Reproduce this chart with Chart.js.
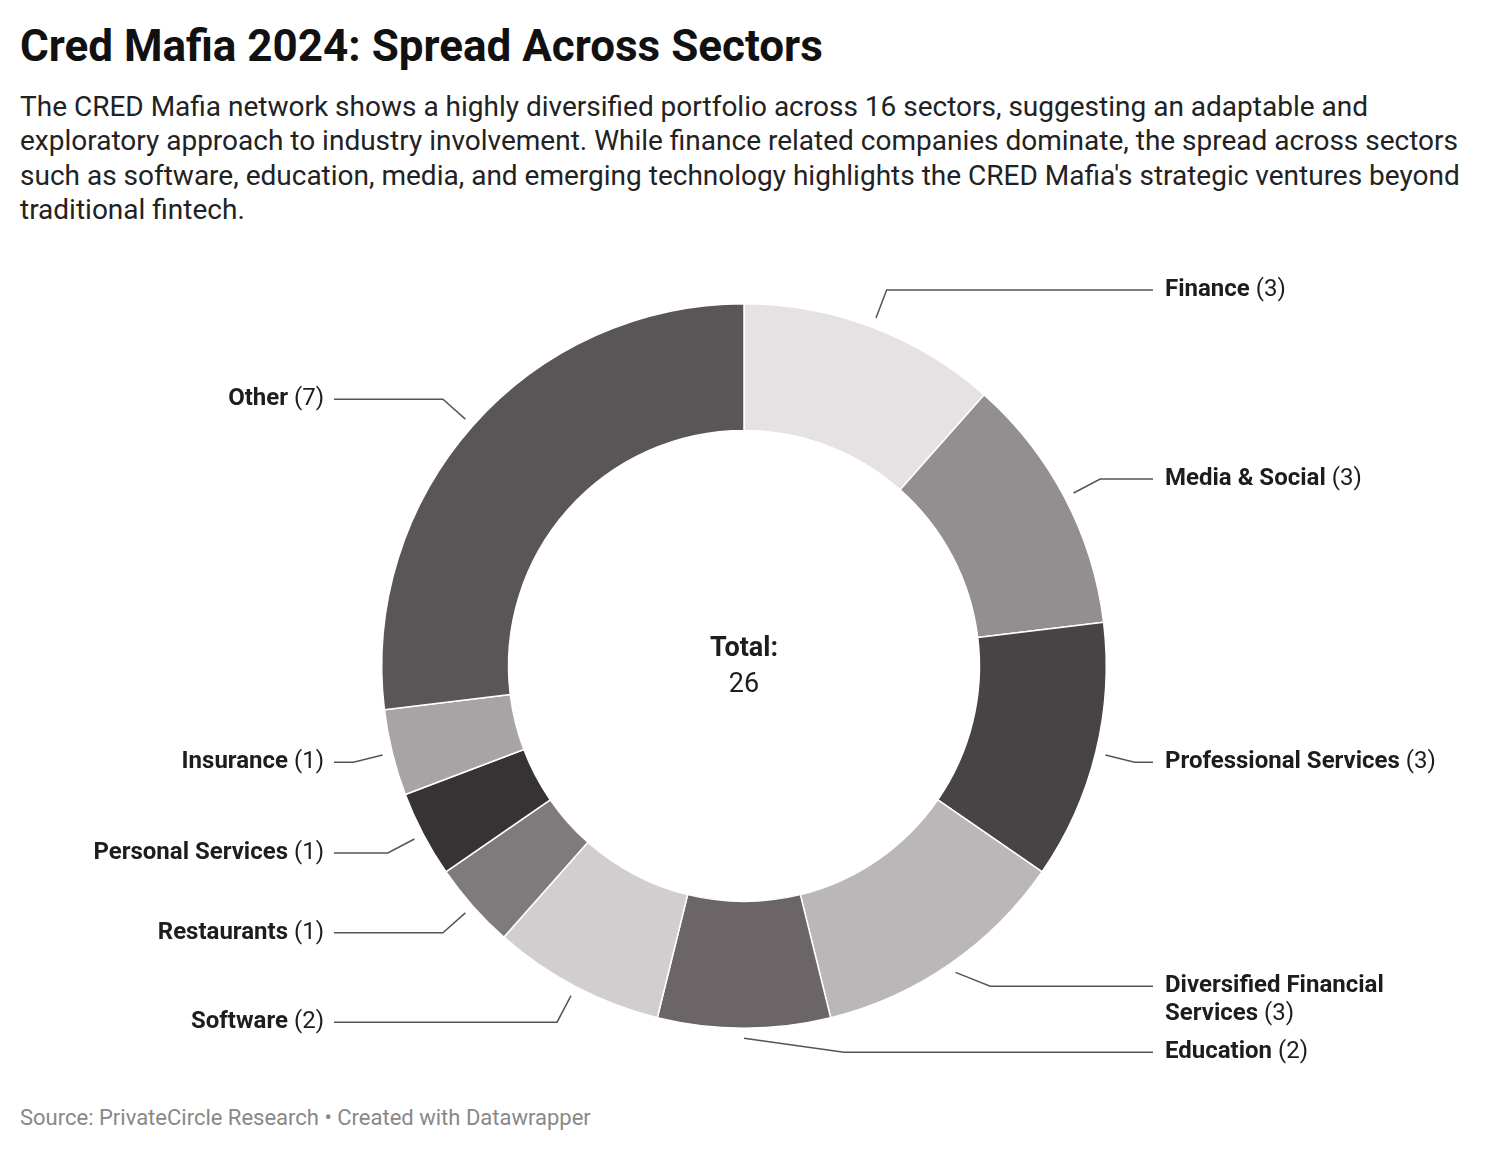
<!DOCTYPE html>
<html>
<head>
<meta charset="utf-8">
<script src="https://cdn.jsdelivr.net/npm/chart.js@4.4.1/dist/chart.umd.min.js"></script>
<style>
  body { margin: 0; background: #fff; font-family: Roboto, sans-serif; color: #1d1d1d; }
  #title { position: absolute; left: 20px; top: 20px; font-size: 44px; font-weight: 700; line-height: 52px; white-space: nowrap; color: #111; }
  #desc { position: absolute; left: 20px; top: 90px; font-size: 28px; line-height: 34.4px; white-space: nowrap; color: #222; }
  #wrap { position: absolute; left: 0; top: 246px; width: 1488px; height: 840px; }
  #source { position: absolute; left: 20px; top: 1104px; font-size: 22px; line-height: 28px; color: #888; white-space: nowrap; }
</style>
</head>
<body>
<div id="title">Cred Mafia 2024: Spread Across Sectors</div>
<div id="desc">The CRED Mafia network shows a highly diversified portfolio across 16 sectors, suggesting an adaptable and<br>exploratory approach to industry involvement. While finance related companies dominate, the spread across sectors<br>such as software, education, media, and emerging technology highlights the CRED Mafia's strategic ventures beyond<br>traditional fintech.</div>
<div id="wrap"><canvas id="sectorChart" width="1488" height="840"></canvas></div>
<div id="source">Source: PrivateCircle Research • Created with Datawrapper</div>

<script>
// sectors, clockwise from the top
const sectors = ['Finance', 'Media & Social', 'Professional Services', 'Diversified Financial Services',
                 'Education', 'Software', 'Restaurants', 'Personal Services', 'Insurance', 'Other'];
const companies = [3, 3, 3, 3, 2, 2, 1, 1, 1, 7];
const sliceColors = ['#e6e1e3', '#938e8f', '#484445', '#bbb6b7', '#6b6567',
                     '#d2cdce', '#7f7a7b', '#373334', '#a8a3a4', '#5a5556'];
const centerLabel = 'Total:';

const LABEL_SIZE = 24;
const LINE_H = 28;

// split "Name (n)" into bold + regular words
function labelWords(i) {
    const words = sectors[i].split(' ').map(w => ({ text: w, bold: true }));
    words.push({ text: '(' + companies[i] + ')', bold: false });
    return words;
}

function fontFor(bold) {
    return (bold ? '700 ' : '400 ') + LABEL_SIZE + 'px Roboto, sans-serif';
}

function wrapWords(ctx, words, maxWidth) {
    const lines = [];
    let line = [], width = 0;
    ctx.font = fontFor(false);
    const space = ctx.measureText(' ').width;
    words.forEach(w => {
        ctx.font = fontFor(w.bold);
        const ww = ctx.measureText(w.text).width;
        const add = line.length ? space + ww : ww;
        if (line.length && width + add > maxWidth) {
            lines.push({ words: line, width: width });
            line = [w]; width = ww;
        } else {
            line.push(w); width += add;
        }
    });
    if (line.length) lines.push({ words: line, width: width });
    return lines;
}

const leaderLabels = {
    id: 'leaderLabels',
    afterDraw(chart) {
        const ctx = chart.ctx;
        const arcs = chart.getDatasetMeta(0).data;
        if (!arcs.length) return;
        const cx = arcs[0].x, cy = arcs[0].y, R = arcs[0].outerRadius;

        // centre text
        const total = companies.reduce((a, b) => a + b, 0);
        ctx.save();
        ctx.fillStyle = '#1d1d1d';
        ctx.textAlign = 'center';
        ctx.textBaseline = 'middle';
        ctx.font = '700 27px Roboto, sans-serif';
        ctx.fillText(centerLabel, cx, cy - 17);
        ctx.font = '400 27px Roboto, sans-serif';
        ctx.fillText(String(total), cx, cy + 19);
        ctx.restore();

        // build labels
        const items = arcs.map((arc, i) => {
            const mid = (arc.startAngle + arc.endAngle) / 2;
            const side = Math.cos(mid) > -1e-3 ? 1 : -1;
            const lines = wrapWords(ctx, labelWords(i), 300);
            return {
                i, mid, side, lines,
                sx: cx + Math.cos(mid) * (R + 10), sy: cy + Math.sin(mid) * (R + 10),
                ex: cx + Math.cos(mid) * (R + 40), ey: cy + Math.sin(mid) * (R + 40),
                y: cy + Math.sin(mid) * (R + 40)
            };
        });

        // keep labels apart on each side
        const maxY = cy + R + 24, minY = cy - R - 24;
        [1, -1].forEach(side => {
            const group = items.filter(it => it.side === side).sort((a, b) => a.y - b.y);
            for (let k = group.length - 1; k >= 0; k--) {
                const it = group[k];
                const limit = k === group.length - 1 ? maxY - (it.lines.length - 1) * LINE_H
                                                     : group[k + 1].y - it.lines.length * LINE_H - 10;
                if (it.y > limit) it.y = limit;
            }
            for (let k = 0; k < group.length; k++) {
                const it = group[k];
                const low = k === 0 ? minY : group[k - 1].y + group[k - 1].lines.length * LINE_H + 10;
                if (it.y < low) it.y = low;
            }
        });

        ctx.save();
        ctx.strokeStyle = '#555';
        ctx.lineWidth = 1.5;
        ctx.textBaseline = 'middle';
        items.forEach(it => {
            let elbowX = it.ex;
            if (Math.abs(it.y - it.ey) > 1) {
                elbowX = it.sx + it.side * Math.max(Math.abs(it.ex - it.sx), Math.abs(it.y - it.sy) * 2.5);
                if (Math.abs(Math.cos(it.mid)) < 0.05) elbowX = it.sx + it.side * 100;
            }
            const endX = it.side > 0 ? cx + 409 : cx - 410;
            ctx.beginPath();
            ctx.moveTo(it.sx, it.sy);
            ctx.lineTo(elbowX, it.y);
            ctx.lineTo(endX, it.y);
            ctx.stroke();

            ctx.fillStyle = '#1d1d1d';
            ctx.textAlign = 'left';
            it.lines.forEach((ln, li) => {
                const y = it.y + li * LINE_H;
                let x = it.side > 0 ? endX + 12 : endX - 10 - ln.width;
                ctx.font = fontFor(false);
                const space = ctx.measureText(' ').width;
                ln.words.forEach(w => {
                    ctx.font = fontFor(w.bold);
                    ctx.fillText(w.text, x, y);
                    x += ctx.measureText(w.text).width + space;
                });
            });
        });
        ctx.restore();
    }
};

new Chart(document.getElementById('sectorChart').getContext('2d'), {
    type: 'doughnut',
    data: {
        labels: sectors,
        datasets: [{
            data: companies,
            backgroundColor: sliceColors,
            borderColor: '#ffffff',
            borderWidth: 1.5
        }]
    },
    options: {
        responsive: false,
        animation: false,
        devicePixelRatio: 1,
        cutout: '65%',
        layout: { padding: { top: 57, bottom: 57 } },
        plugins: {
            legend: { display: false },
            tooltip: { enabled: false }
        }
    },
    plugins: [leaderLabels]
});
</script>
</body>
</html>
